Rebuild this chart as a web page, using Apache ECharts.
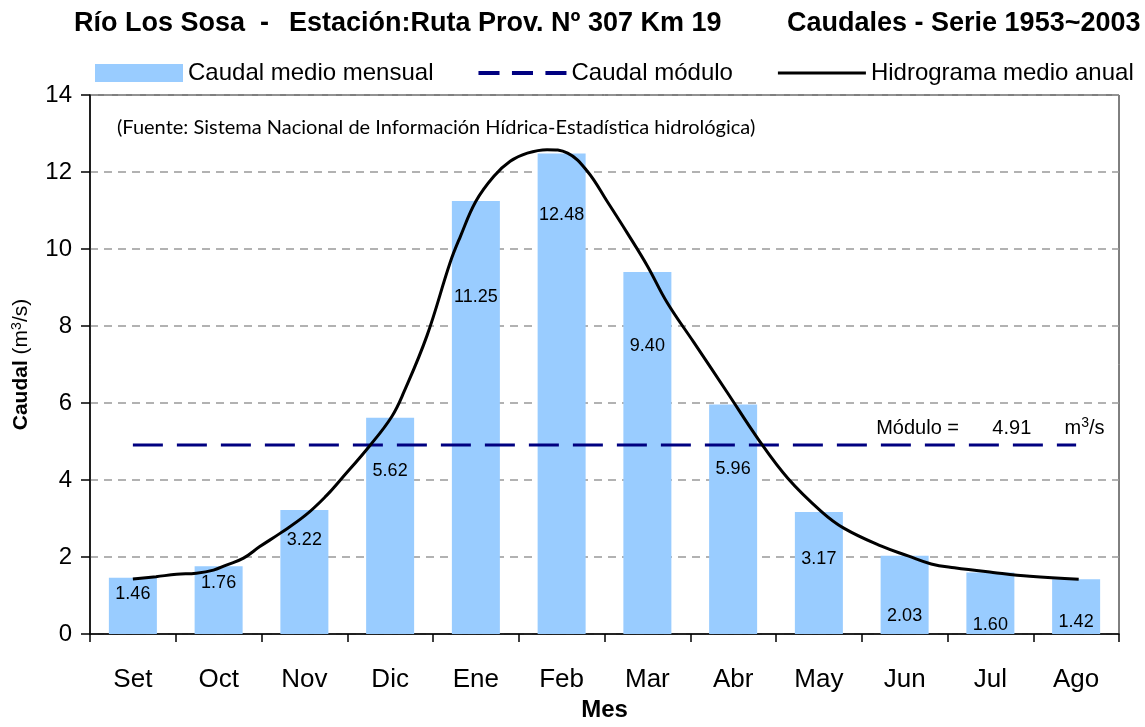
<!DOCTYPE html>
<html>
<head>
<meta charset="utf-8">
<script src="https://cdn.jsdelivr.net/npm/echarts@6/dist/echarts.min.js"></script>
<style>
  html, body { margin: 0; background: #fff; }
  #chart { width: 1145px; height: 727px; }
</style>
</head>
<body>
<div id="chart"></div>
<script>
// datos
var months = ["Set", "Oct", "Nov", "Dic", "Ene", "Feb", "Mar", "Abr", "May", "Jun", "Jul", "Ago"];
var caudalMensual = [1.46, 1.76, 3.22, 5.62, 11.25, 12.48, 9.40, 5.96, 3.17, 2.03, 1.60, 1.42];
var modulo = 4.91;

// hidrograma: points (x in month index, Set = 0)
var hidroX = [0.00, 0.27, 0.51, 0.74, 0.94, 1.09, 1.29, 1.48, 1.72, 2.01, 2.26, 2.42, 2.77, 3.02,
  3.16, 3.43, 3.70, 3.82, 4.00, 4.21, 4.40, 4.60, 4.83, 5.07, 5.30, 5.53, 5.77, 6.00, 6.23,
  6.54, 6.93, 7.29, 7.64, 8.03, 8.29, 8.73, 9.04, 9.31, 9.58, 10.03, 10.46, 11.03];
var hidroY = [1.43, 1.49, 1.55, 1.58, 1.66, 1.79, 1.97, 2.27, 2.62, 3.08, 3.60, 4.00, 4.91, 5.65,
  6.28, 7.75, 9.65, 10.33, 11.24, 11.89, 12.28, 12.49, 12.58, 12.49, 12.02, 11.24, 10.40, 9.56, 8.61,
  7.58, 6.28, 5.07, 4.04, 3.18, 2.75, 2.28, 2.03, 1.82, 1.72, 1.60, 1.50, 1.42];

// where each bar label sits, px below the bar top (labels were hand placed in the original)
var labelDrop = [16, 17, 30, 53, 96, 62, 74, 64, 47, 60, 53, 43];

var font = "Liberation Sans, Arial, sans-serif";

var dom = document.getElementById("chart");
var myChart = echarts.init(dom, null, { renderer: "canvas" });

var barData = caudalMensual.map(function (v, i) {
  return {
    value: v,
    label: { position: ["50%", labelDrop[i]] }
  };
});

var moduloData = months.map(function () { return modulo; });
var hidroData = hidroX.map(function (x, i) { return [x, hidroY[i]]; });

var option = {
  animation: false,
  textStyle: { fontFamily: font },
  graphic: [
    { type: "text", left: 74, top: 10, style: { text: "Río Los Sosa  -", font: "bold 27px " + font, fill: "#000" } },
    { type: "text", left: 289, top: 10, style: { text: "Estación:Ruta Prov. Nº 307 Km 19", font: "bold 27px " + font, fill: "#000" } },
    { type: "text", left: 787, top: 10, style: { text: "Caudales - Serie 1953~2003", font: "bold 27px " + font, fill: "#000" } },
    { type: "text", left: 117, top: 118, style: { text: "(Fuente: Sistema Nacional de Información Hídrica-Estadística hidrológica)", font: "20px Lato, sans-serif", fill: "#000" } }
  ],
  legend: {
    left: 95,
    top: 61,
    padding: 0,
    itemWidth: 88,
    itemHeight: 18,
    itemGap: 45,
    textStyle: { fontSize: 24, color: "#000", fontFamily: font },
    data: [
      { name: "Caudal medio mensual", icon: "rect" },
      { name: "Caudal módulo", icon: "path://M0,0h22v4h-22zM35,0h22v4h-22zM70,0h22v4h-22z" },
      { name: "Hidrograma medio anual", icon: "path://M0,0h92v3h-92z" }
    ]
  },
  grid: {
    left: 90,
    right: 26,
    top: 95,
    bottom: 91,
    show: true,
    borderColor: "#000",
    borderWidth: 1
  },
  xAxis: [
    {
      type: "category",
      data: months,
      name: "Mes",
      nameLocation: "middle",
      nameGap: 64,
      nameTextStyle: { fontSize: 24, fontWeight: "bold", color: "#000" },
      axisLine: { lineStyle: { color: "#000", width: 1.5 } },
      axisTick: { show: true, length: 8, lineStyle: { color: "#000", width: 1.5 } },
      axisLabel: { fontSize: 26, color: "#000", margin: 33 },
      splitLine: { show: false }
    },
    {
      type: "value",
      min: -0.5,
      max: 11.5,
      show: false
    }
  ],
  yAxis: {
    type: "value",
    min: 0,
    max: 14,
    interval: 2,
    name: "{b|Caudal} (m{sup|3}/s)",
    nameLocation: "middle",
    nameRotate: 90,
    nameGap: 58,
    nameTextStyle: {
      fontSize: 21,
      color: "#000",
      rich: {
        b: { fontSize: 21, fontWeight: "bold", color: "#000" },
        sup: { fontSize: 14, color: "#000", verticalAlign: "top", padding: [0, 0, 8, 0] }
      }
    },
    axisLine: { show: true, onZero: false, lineStyle: { color: "#000", width: 1.5 } },
    axisTick: { show: true, length: 9, lineStyle: { color: "#000", width: 1.5 } },
    axisLabel: { fontSize: 24, color: "#000", margin: 18 },
    splitLine: { show: true, lineStyle: { color: "#999", type: [8, 6], width: 1.5 } }
  },
  series: [
    {
      name: "Caudal medio mensual",
      type: "bar",
      data: barData,
      barWidth: 48,
      itemStyle: { color: "#99CCFF" },
      label: {
        show: true,
        align: "center",
        verticalAlign: "middle",
        fontSize: 18,
        color: "#000",
        formatter: function (p) { return p.value.toFixed(2); }
      },
      z: 1
    },
    {
      name: "Caudal módulo",
      type: "line",
      data: moduloData,
      symbol: "none",
      lineStyle: { color: "#000080", width: 3, type: [30, 14] },
      itemStyle: { color: "#000080" },
      markPoint: {
        symbol: "circle",
        symbolSize: 1,
        itemStyle: { color: "rgba(0,0,0,0)" },
        label: {
          show: true,
          position: "top",
          distance: 4,
          fontFamily: font,
          fontSize: 20,
          color: "#000",
          formatter: "Módulo =      " + modulo.toFixed(2) + "      m{sup|3}/s",
          rich: { sup: { fontSize: 14, color: "#000", padding: [0, 0, 10, 0] } }
        },
        data: [{ coord: [months[10], modulo] }]
      },
      z: 3
    },
    {
      name: "Hidrograma medio anual",
      type: "line",
      xAxisIndex: 1,
      data: hidroData,
      smooth: 0.4,
      symbol: "none",
      lineStyle: { color: "#000", width: 3 },
      itemStyle: { color: "#000" },
      z: 4
    }
  ]
};

myChart.setOption(option);
window.addEventListener("resize", myChart.resize);
</script>
</body>
</html>
